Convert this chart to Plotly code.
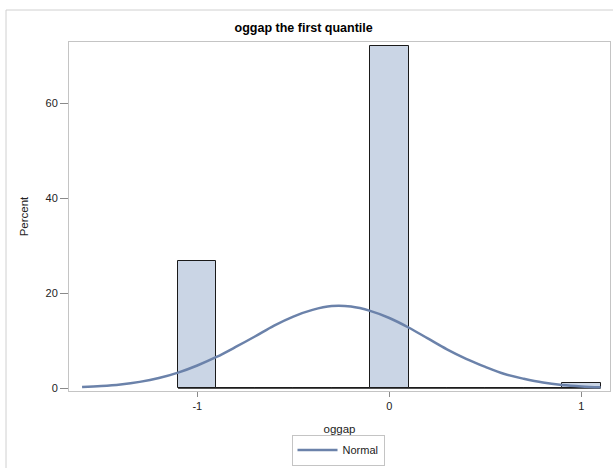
import plotly.graph_objects as go

# Histogram bins (midpoints) and percents
bin_mid = [-1.0, -0.8, -0.6, -0.4, -0.2, 0.0, 0.2, 0.4, 0.6, 0.8, 1.0]
bin_pct = [26.9, 0, 0, 0, 0, 72.0, 0, 0, 0, 0, 1.1]
bin_width = 0.2

# Fitted normal curve
curve_x = [-1.6, -1.5, -1.4, -1.3, -1.2, -1.1, -1.0, -0.9, -0.8, -0.7, -0.6, -0.5, -0.4,
           -0.3, -0.2, -0.1, 0.0, 0.1, 0.2, 0.3, 0.4, 0.5, 0.6, 0.7, 0.8, 0.9, 1.0, 1.1]
curve_y = [0.25, 0.46, 0.8, 1.35, 2.15, 3.3, 4.8, 6.6, 8.7, 10.9, 13.2, 15.1, 16.5,
           17.3, 17.2, 16.3, 14.8, 12.8, 10.5, 8.2, 6.2, 4.5, 3.0, 2.0, 1.2, 0.7, 0.4, 0.22]

x_ticks = [-1, 0, 1]
y_ticks = [0, 20, 40, 60]

FONT = "Liberation Sans, Arial, sans-serif"
BAR_FILL = "#CAD5E5"
CURVE = "#6B82AA"
FRAME = "#C4C4C4"

fig = go.Figure()

# baseline of zero-height bins
edges_x = [bin_mid[0] - bin_width / 2, bin_mid[-1] + bin_width / 2]
fig.add_trace(go.Scatter(x=edges_x, y=[0, 0], mode="lines",
                         line=dict(color="#222222", width=1), showlegend=False,
                         hoverinfo="skip"))

fig.add_trace(go.Bar(x=bin_mid, y=bin_pct, width=bin_width,
                     marker=dict(color=BAR_FILL, line=dict(color="#1a1a1a", width=1)),
                     showlegend=False))

fig.add_trace(go.Scatter(x=curve_x, y=curve_y, mode="lines", name="Normal",
                         line=dict(color=CURVE, width=2.5, shape="spline")))

L, R, T, B = 69, 3, 42, 77
W, H = 613, 468
pw, ph = W - L - R, H - T - B

def px(xp):
    return (xp - L) / pw

def py(yp):
    return (H - B - yp) / ph

fig.update_layout(
    width=W, height=H,
    margin=dict(l=L, r=R, t=T, b=B, pad=0, autoexpand=False),
    paper_bgcolor="white", plot_bgcolor="white",
    font=dict(family=FONT, size=11, color="#222222"),
    title=dict(text="<b>oggap the first quantile</b>", x=px(337), xanchor="center",
               y=1 - 28 / H, yanchor="middle", font=dict(size=12.5, color="#000000")),
    bargap=0,
    xaxis=dict(range=[-1.668, 1.149], tickvals=x_ticks, ticktext=[str(v) for v in x_ticks],
               showgrid=False, zeroline=False, showline=True, linecolor=FRAME, linewidth=1,
               mirror=True, ticks="outside", ticklen=5, tickcolor="#8a8a8a",
               title=dict(text="oggap", standoff=13, font=dict(size=11.5)),
               tickfont=dict(size=11)),
    yaxis=dict(range=[-0.57, 72.9], tickvals=y_ticks,
               showgrid=False, zeroline=False, showline=True, linecolor=FRAME, linewidth=1,
               mirror=True, ticks="outside", ticklen=8, tickcolor="#8a8a8a",
               title=dict(text="Percent", standoff=14, font=dict(size=11.5)),
               tickfont=dict(size=11)),
    legend=dict(orientation="h", x=px(338), xanchor="center", y=py(450), yanchor="middle",
                bordercolor=FRAME, borderwidth=1, bgcolor="white",
                font=dict(size=11), itemwidth=40,
                tracegroupgap=0),
    shapes=[dict(type="rect", xref="paper", yref="paper",
                 x0=px(6), x1=px(640), y0=py(500), y1=py(10),
                 line=dict(color="#D0D0D0", width=1), layer="below")],
)

fig.write_html("out.html")
